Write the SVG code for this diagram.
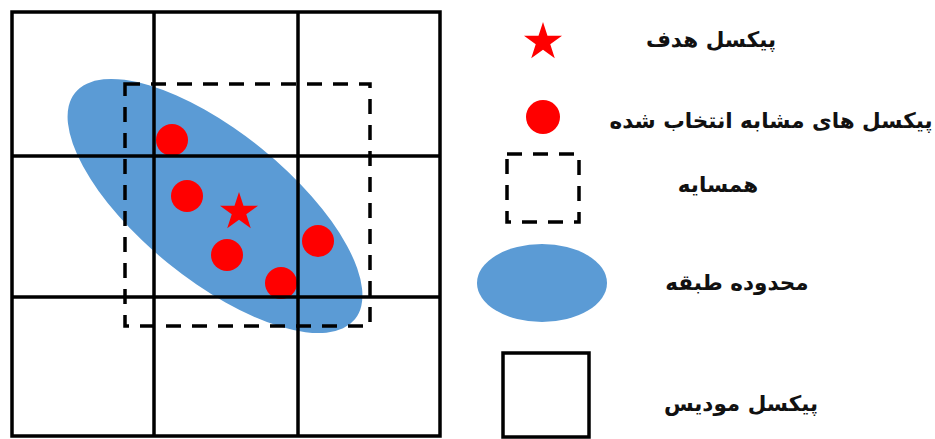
<svg xmlns="http://www.w3.org/2000/svg" width="935" height="439" viewBox="0 0 935 439">
<style>
.grid{fill:none;stroke:#000;stroke-width:3.5}
.dash{fill:none;stroke:#000;stroke-width:3.5;stroke-dasharray:15 11}
.blue{fill:#5B9BD5}
.red{fill:#FF0000}
.lbl{font-family:"DejaVu Sans","Noto Sans",sans-serif;font-size:21.5px;font-weight:bold;fill:#111;text-anchor:middle}
</style>
<defs>
<path id="star" d="M0,-20 L4.49,-6.18 L19.02,-6.18 L7.27,2.36 L11.76,16.18 L0,7.64 L-11.76,16.18 L-7.27,2.36 L-19.02,-6.18 L-4.49,-6.18 Z"/>
</defs>
<rect width="935" height="439" fill="#fff"/>
<g id="figure">
<ellipse class="blue" cx="215" cy="206" rx="180" ry="74" transform="rotate(39 215 206)"/>
<g id="similar-pixels" class="red">
<circle cx="172" cy="140" r="16"/>
<circle cx="187" cy="196" r="16"/>
<circle cx="227" cy="255" r="16"/>
<circle cx="318" cy="241" r="16"/>
<circle cx="281" cy="283" r="16"/>
</g>
<use href="#star" class="red" x="239" y="212"/>
<g id="modis-grid">
<rect class="grid" x="12" y="12" width="428" height="424"/>
<line class="grid" x1="154" y1="12" x2="154" y2="436"/>
<line class="grid" x1="298" y1="12" x2="298" y2="436"/>
<line class="grid" x1="12" y1="156" x2="440" y2="156"/>
<line class="grid" x1="12" y1="297" x2="440" y2="297"/>
</g>
<rect id="neighborhood" class="dash" x="125" y="84" width="245" height="242"/>
</g>
<g id="legend-target">
<use href="#star" class="red" x="543" y="42"/>
<text class="lbl" x="711" y="47">پیکسل هدف</text>
</g>
<g id="legend-similar">
<circle class="red" cx="543" cy="117" r="17"/>
<text class="lbl" x="771" y="128">پیکسل های مشابه انتخاب شده</text>
</g>
<g id="legend-neighborhood">
<rect class="dash" x="507" y="154" width="72" height="68"/>
<text class="lbl" x="718" y="192">همسایه</text>
</g>
<g id="legend-class">
<ellipse class="blue" cx="542" cy="283" rx="65" ry="39"/>
<text class="lbl" x="737" y="290">محدوده طبقه</text>
</g>
<g id="legend-modis">
<rect class="grid" x="503" y="353" width="86" height="84"/>
<text class="lbl" x="741" y="411">پیکسل مودیس</text>
</g>
</svg>
